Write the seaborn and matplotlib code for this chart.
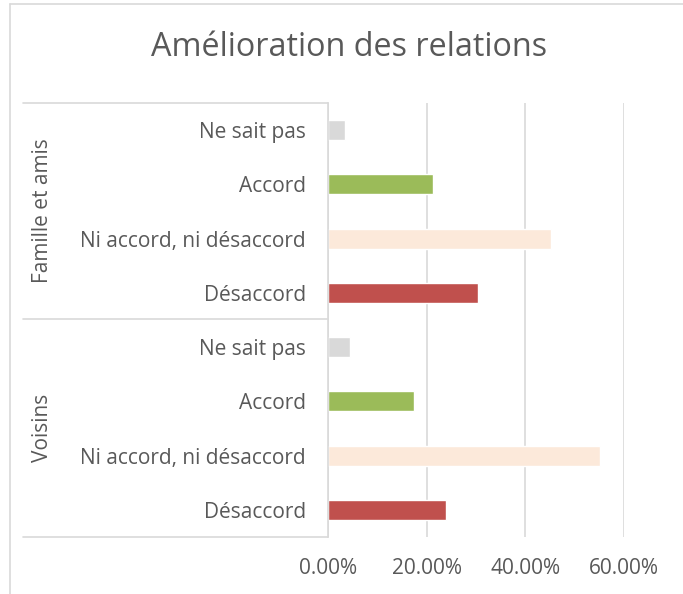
import matplotlib
matplotlib.use("Agg")
import matplotlib.pyplot as plt
from matplotlib.lines import Line2D
from matplotlib.ticker import FuncFormatter
import seaborn as sns
import pandas as pd

groups = ["Famille et amis", "Voisins"]
responses = ["Ne sait pas", "Accord", "Ni accord, ni désaccord", "Désaccord"]
famille_values = [0.035, 0.212, 0.452, 0.304]
voisins_values = [0.044, 0.174, 0.551, 0.239]
xticks = [0.0, 0.2, 0.4, 0.6]
palette = {"Ne sait pas": "#D9D9D9", "Accord": "#9BBB59",
           "Ni accord, ni désaccord": "#FCE9DA", "Désaccord": "#C0504D"}

rows = []
for g, vals in zip(groups, [famille_values, voisins_values]):
    for r, v in zip(responses, vals):
        rows.append({"key": f"{g}|{r}", "group": g, "response": r, "value": v})
df = pd.DataFrame(rows)

sns.set_style("white")
plt.rcParams["font.family"] = ["Open Sans", "DejaVu Sans"]

W, H = 683, 594
fig = plt.figure(figsize=(W / 100, H / 100), dpi=100)
ax = fig.add_axes([328 / W, 1 - 537 / H, (624 - 328) / W, (537 - 103) / H])

sns.barplot(data=df, y="key", x="value", hue="response", palette=palette,
            dodge=False, width=0.37, ax=ax, legend=False, saturation=1)

ax.set_xlim(0, 0.6)
ax.set_xticks(xticks)
ax.xaxis.set_major_formatter(FuncFormatter(lambda v, p: f"{v*100:.2f}%"))
ax.set_yticks(range(len(df)))
ax.set_yticklabels(df["response"])
ax.set_xlabel("")
ax.set_ylabel("")
ax.grid(axis="x", color="#D9D9D9", lw=1.2)
ax.set_axisbelow(True)
for s in ["top", "right", "bottom"]:
    ax.spines[s].set_visible(False)
ax.spines["left"].set_color("#D9D9D9")
ax.spines["left"].set_linewidth(1.2)
ax.tick_params(axis="y", length=0, pad=16, labelsize=15, labelcolor="#595959")
ax.tick_params(axis="x", length=0, pad=15, labelsize=15, labelcolor="#595959")

# category table lines
for y in [103, 319, 537]:
    fig.add_artist(Line2D([23 / W, 328 / W], [1 - y / H, 1 - y / H],
                          color="#D9D9D9", lw=1.2))
# group labels
fig.text(42 / W, 1 - 211 / H, groups[0], rotation=90, ha="center", va="center",
         fontsize=15, color="#595959")
fig.text(42 / W, 1 - 428 / H, groups[1], rotation=90, ha="center", va="center",
         fontsize=15, color="#595959")

# outer chart border (cropped)
fig.add_artist(Line2D([10 / W, 10 / W], [1 - 4 / H, 0], color="#D9D9D9", lw=1.2))
fig.add_artist(Line2D([10 / W, 1], [1 - 4 / H, 1 - 4 / H], color="#D9D9D9", lw=1.2))

fig.text(349 / W, 1 - 48 / H, "Amélioration des relations", ha="center", va="center",
         fontsize=23.3, color="#595959")

fig.savefig("out.png", dpi=100)
